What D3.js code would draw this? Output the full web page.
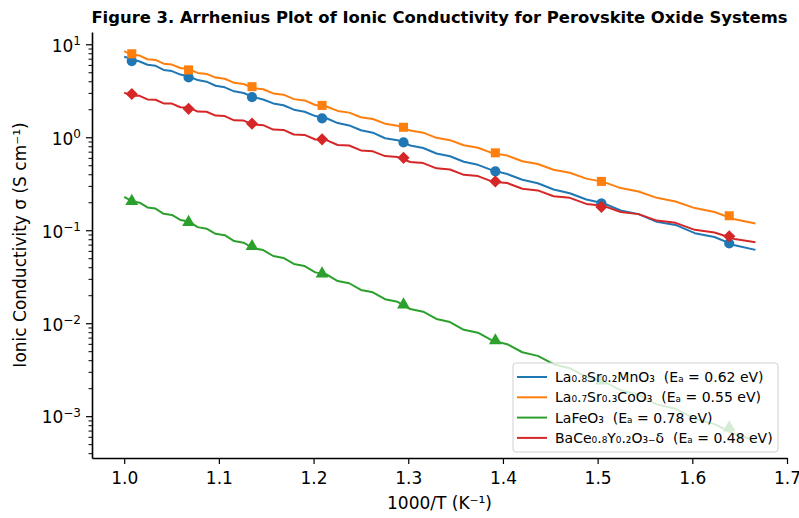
<!DOCTYPE html>
<html>
<head>
<meta charset="utf-8">
<script src="https://cdn.jsdelivr.net/npm/d3@7"></script>
<style>
  body { margin: 0; background: #fff; }
  text { font-family: "DejaVu Sans", sans-serif; fill: #000; }
</style>
</head>
<body>
<div id="chart"></div>
<script>
// 1000/T (K^-1), T from 1000 K down to 600 K
const xs = [1.0000, 1.0081, 1.0163, 1.0246, 1.0331, 1.0417, 1.0504, 1.0593, 1.0684, 1.0776,
  1.0870, 1.0965, 1.1062, 1.1161, 1.1261, 1.1364, 1.1468, 1.1574, 1.1682, 1.1792,
  1.1905, 1.2019, 1.2136, 1.2255, 1.2376, 1.2500, 1.2626, 1.2755, 1.2887, 1.3021,
  1.3158, 1.3298, 1.3441, 1.3587, 1.3736, 1.3889, 1.4045, 1.4205, 1.4368, 1.4535,
  1.4706, 1.4881, 1.5060, 1.5244, 1.5432, 1.5625, 1.5823, 1.6026, 1.6234, 1.6447, 1.6667]

const lsmo = [7.35, 6.95, 6.52, 6.02, 5.86, 5.30, 5.15, 4.72, 4.50, 4.12,
  3.96, 3.58, 3.44, 3.12, 2.99, 2.70, 2.55, 2.31, 2.21, 1.98,
  1.88, 1.69, 1.60, 1.42, 1.34, 1.19, 1.12, 0.975, 0.930, 0.815,
  0.766, 0.668, 0.625, 0.545, 0.505, 0.440, 0.402, 0.349, 0.320, 0.274,
  0.250, 0.214, 0.195, 0.163, 0.149, 0.123, 0.114, 0.0930, 0.0845, 0.0688, 0.0615]

const lsco = [8.45, 7.70, 7.55, 6.90, 6.78, 6.18, 6.05, 5.55, 5.40, 4.92,
  4.80, 4.38, 4.26, 3.85, 3.74, 3.38, 3.28, 2.96, 2.87, 2.57,
  2.49, 2.22, 2.14, 1.92, 1.84, 1.64, 1.57, 1.40, 1.33, 1.18,
  1.12, 0.985, 0.930, 0.820, 0.770, 0.675, 0.635, 0.552, 0.516, 0.447,
  0.415, 0.359, 0.331, 0.284, 0.261, 0.223, 0.204, 0.173, 0.157, 0.131, 0.118]

const lfo = [0.228, 0.205, 0.198, 0.176, 0.171, 0.150, 0.146, 0.129, 0.124, 0.108,
  0.104, 0.0915, 0.0885, 0.0765, 0.0735, 0.0640, 0.0612, 0.0528, 0.0503, 0.0434,
  0.0412, 0.0352, 0.0335, 0.0284, 0.0269, 0.0228, 0.0215, 0.0181, 0.0170, 0.0142,
  0.0133, 0.0111, 0.0103, 0.00850, 0.00790, 0.00650, 0.00595, 0.00487, 0.00445, 0.00362,
  0.00328, 0.00264, 0.00238, 0.00190, 0.00170, 0.00134, 0.00120, 0.000940, 0.000822, 0.000640, 0.000552]

const bcy = [3.02, 2.80, 2.79, 2.55, 2.53, 2.31, 2.30, 2.10, 2.09, 1.89,
  1.88, 1.71, 1.69, 1.52, 1.51, 1.37, 1.35, 1.21, 1.20, 1.07,
  1.06, 0.945, 0.930, 0.826, 0.815, 0.722, 0.705, 0.627, 0.612, 0.541,
  0.527, 0.463, 0.450, 0.394, 0.382, 0.333, 0.322, 0.279, 0.268, 0.232,
  0.223, 0.192, 0.183, 0.157, 0.149, 0.127, 0.120, 0.101, 0.0945, 0.0805, 0.0742]

// marker positions
const markX = [1.008, 1.068, 1.135, 1.209, 1.295, 1.392, 1.504, 1.639]
const lsmoMk = [6.6, 4.4, 2.7, 1.6, 0.88, 0.43, 0.195, 0.072]
const lscoMk = [7.9, 5.3, 3.5, 2.2, 1.28, 0.68, 0.335, 0.143]
const lfoMk = [0.205, 0.122, 0.067, 0.034, 0.0158, 0.0065, 0.0024, 0.00075]
const bcyMk = [2.92, 2.02, 1.40, 0.95, 0.60, 0.335, 0.178, 0.086]

const labels = [
  "La₀.₈Sr₀.₂MnO₃  (Eₐ = 0.62 eV)",
  "La₀.₇Sr₀.₃CoO₃  (Eₐ = 0.55 eV)",
  "LaFeO₃  (Eₐ = 0.78 eV)",
  "BaCe₀.₈Y₀.₂O₃₋δ  (Eₐ = 0.48 eV)"
]
const colors = ["#1f77b4", "#ff7f0e", "#2ca02c", "#d62728"]

const xTicks = [1.0, 1.1, 1.2, 1.3, 1.4, 1.5, 1.6, 1.7]
const yTicks = [1e-3, 1e-2, 1e-1, 1e0, 1e1]
const yExp = ["−3", "−2", "−1", "0", "1"]

const width = 799
const height = 518
const mLeft = 92, mRight = 787, mTop = 32, mBottom = 458

const series = [
  {vals: lsmo, mk: lsmoMk, shape: "circle"},
  {vals: lsco, mk: lscoMk, shape: "square"},
  {vals: lfo, mk: lfoMk, shape: "triangle"},
  {vals: bcy, mk: bcyMk, shape: "diamond"}
]

const svg = d3.select("#chart")
  .append("svg")
  .attr("width", width)
  .attr("height", height)

const x = d3.scaleLinear()
  .domain([0.966, 1.7])
  .range([mLeft, mRight])

const y = d3.scaleLog()
  .domain([3.55e-4, 13.55])
  .range([mBottom, mTop])

// lines
const line = d3.line()
  .x((d, i) => x(xs[i]))
  .y(d => y(d))

svg.append("g")
  .selectAll("path")
  .data(series)
  .join("path")
  .attr("d", d => line(d.vals))
  .attr("fill", "none")
  .attr("stroke", (d, i) => colors[i])
  .attr("stroke-width", 2)
  .attr("stroke-linejoin", "round")

// markers
const symbolFor = {
  circle: d3.symbol(d3.symbolCircle, 82),
  square: d3.symbol(d3.symbolSquare, 82),
  triangle: d3.symbol(d3.symbolTriangle, 72),
  diamond: d3.symbol(d3.symbolSquare, 74)
}

series.forEach((s, si) => {
  svg.append("g")
    .selectAll("path")
    .data(s.mk)
    .join("path")
    .attr("d", symbolFor[s.shape])
    .attr("transform", (d, i) => `translate(${x(markX[i])},${y(d)})` + (s.shape === "diamond" ? " rotate(45)" : ""))
    .attr("fill", colors[si])
})

// x axis
const xAxis = svg.append("g")
  .attr("transform", `translate(0,${mBottom})`)
  .call(d3.axisBottom(x).tickValues(xTicks).tickFormat(d3.format(".1f")).tickSize(6).tickPadding(8).tickSizeOuter(0))
xAxis.select(".domain").attr("stroke-width", 1.6)
xAxis.selectAll(".tick line").attr("stroke-width", 1.2)
xAxis.selectAll("text").style("font-size", "17px").attr("fill", "#000")

// y axis, minor ticks
const minor = []
for (let e = -4; e <= 1; e++) {
  for (let m = 2; m <= 9; m++) {
    const v = m * Math.pow(10, e)
    if (v > y.domain()[0] && v < y.domain()[1]) minor.push(v)
  }
}
const yMinor = svg.append("g")
  .attr("transform", `translate(${mLeft},0)`)
  .call(d3.axisLeft(y).tickValues(minor).tickFormat("").tickSize(3.5).tickSizeOuter(0))
yMinor.select(".domain").remove()
yMinor.selectAll(".tick line").attr("stroke-width", 1)

const yAxis = svg.append("g")
  .attr("transform", `translate(${mLeft},0)`)
  .call(d3.axisLeft(y).tickValues(yTicks).tickFormat("").tickSize(6).tickSizeOuter(0))
yAxis.select(".domain").attr("stroke-width", 1.6)
yAxis.selectAll(".tick line").attr("stroke-width", 1.2)

const yLab = yAxis.selectAll(".tick")
  .append("text")
  .attr("x", -11)
  .attr("dy", "0.40em")
  .attr("text-anchor", "end")
  .style("font-size", "17px")
  .attr("fill", "#000")
yLab.append("tspan").text("10")
yLab.append("tspan")
  .attr("dy", "-0.55em")
  .style("font-size", "12px")
  .text((d, i) => yExp[i])

// title and axis labels
svg.append("text")
  .attr("x", (mLeft + mRight) / 2)
  .attr("y", 23)
  .attr("text-anchor", "middle")
  .style("font-size", "16.4px")
  .style("font-weight", "bold")
  .text("Figure 3. Arrhenius Plot of Ionic Conductivity for Perovskite Oxide Systems")

svg.append("text")
  .attr("x", (mLeft + mRight) / 2)
  .attr("y", 509)
  .attr("text-anchor", "middle")
  .style("font-size", "17px")
  .text("1000/T (K⁻¹)")

svg.append("text")
  .attr("transform", `translate(26,${(mTop + mBottom) / 2}) rotate(-90)`)
  .attr("text-anchor", "middle")
  .style("font-size", "17px")
  .text("Ionic Conductivity σ (S cm⁻¹)")

// legend
const legend = svg.append("g")
  .attr("transform", "translate(513,363)")

legend.append("rect")
  .attr("width", 265)
  .attr("height", 89)
  .attr("rx", 3)
  .attr("fill", "#fff")
  .attr("fill-opacity", 0.8)
  .attr("stroke", "#d0d0d0")
  .attr("stroke-width", 1)

const rows = legend.selectAll(".row")
  .data(labels)
  .join("g")
  .attr("class", "row")
  .attr("transform", (d, i) => `translate(0,${14 + i * 20.3})`)

rows.append("line")
  .attr("x1", 4)
  .attr("x2", 34)
  .attr("stroke", (d, i) => colors[i])
  .attr("stroke-width", 2)

rows.append("text")
  .attr("x", 42)
  .attr("dy", "0.36em")
  .style("font-size", "14px")
  .style("white-space", "pre")
  .text(d => d)
</script>
</body>
</html>
